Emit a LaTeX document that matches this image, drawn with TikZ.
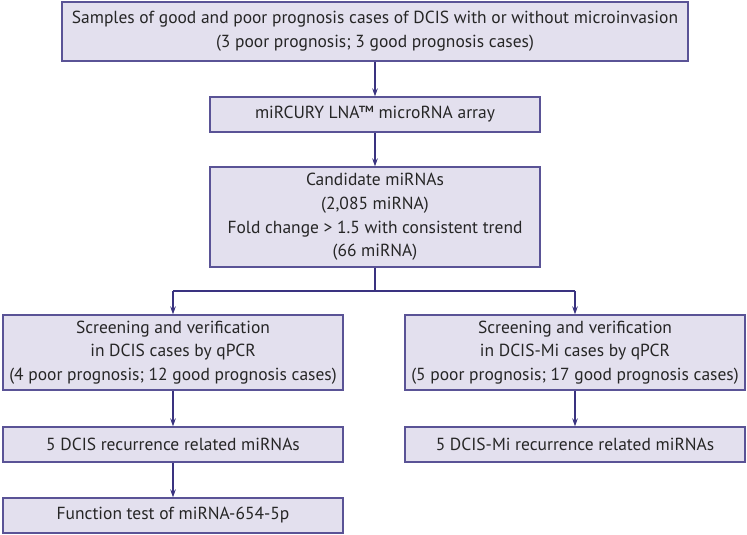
\documentclass[tikz,border=0pt]{standalone}
\usepackage{fontspec}
\setmainfont{PT Sans}
\usetikzlibrary{arrows.meta}
\definecolor{boxfill}{HTML}{E3E0EE}
\definecolor{boxline}{HTML}{5A5396}
\definecolor{arrowc}{HTML}{3A3380}
\begin{document}
\begin{tikzpicture}[x=0.75pt,y=-0.75pt,
  stepbox/.style={draw=boxline,fill=boxfill,line width=1pt,align=center,inner sep=0pt,
    font=\fontsize{13.1pt}{17.8pt}\selectfont,text=black!85},
  conn/.style={draw=arrowc,line width=0.8pt},
  arr/.style={conn,-{Stealth[length=6pt,width=4.2pt]}}]
\useasboundingbox[fill=white] (0,0) rectangle (747,535);
\node[stepbox,minimum width=469.5pt,minimum height=44.25pt] (top) at (375,31.5)
  {Samples of good and poor prognosis cases of DCIS with or without microinvasion\\(3 poor prognosis; 3 good prognosis cases)};
\node[stepbox,minimum width=247.5pt,minimum height=26.25pt] (arr2) at (375,114.5)
  {miRCURY LNA™ microRNA array};
\node[stepbox,minimum width=247.5pt,minimum height=75pt] (cand) at (375,217)
  {Candidate miRNAs\\(2,085 miRNA)\\Fold change > 1.5 with consistent trend\\(66 miRNA)};
\node[stepbox,minimum width=255pt,minimum height=56.25pt] (l1) at (173,352.5)
  {Screening and verification\\in DCIS cases by qPCR\\(4 poor prognosis; 12 good prognosis cases)};
\node[stepbox,minimum width=255pt,minimum height=56.25pt] (r1) at (575,352.5)
  {Screening and verification\\in DCIS-Mi cases by qPCR\\(5 poor prognosis; 17 good prognosis cases)};
\node[stepbox,minimum width=255pt,minimum height=26.25pt] (l2) at (173,444.5)
  {5 DCIS recurrence related miRNAs};
\node[stepbox,minimum width=255pt,minimum height=26.25pt] (r2) at (575,444.5)
  {5 DCIS-Mi recurrence related miRNAs};
\node[stepbox,minimum width=255pt,minimum height=26.25pt] (l3) at (173,515.5)
  {Function test of miRNA-654-5p};
\coordinate (split) at (375,291);
\coordinate (splitl) at (173,291);
\coordinate (splitr) at (575,291);
\draw[arr] (top) -- (arr2);
\draw[arr] (arr2) -- (cand);
\draw[conn] (cand.south) -- (split);
\draw[conn] (splitl) -- (splitr);
\draw[arr] (splitl) -- (l1.north);
\draw[arr] (splitr) -- (r1.north);
\draw[arr] (l1) -- (l2);
\draw[arr] (r1) -- (r2);
\draw[arr] (l2) -- (l3);
\end{tikzpicture}
\end{document}
